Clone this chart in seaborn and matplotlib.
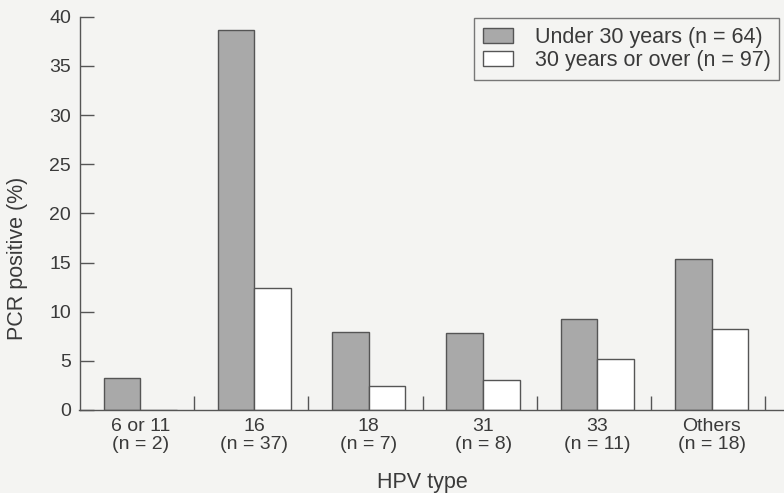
#Importing the libraries
import numpy as np
import pandas as pd
import matplotlib
matplotlib.use('Agg')
import matplotlib.pyplot as plt
import seaborn as sns

#Data
hpv_types = ['6 or 11', '16', '18', '31', '33', 'Others']
type_counts = [2, 37, 7, 8, 11, 18]
under_30 = [3.25, 38.6, 7.9, 7.8, 9.3, 15.35]
over_30 = [0.0, 12.4, 2.4, 3.1, 5.15, 8.2]
groups = ['Under 30 years (n = 64)', '30 years or over (n = 97)']

# Tick labels with the number of cases under each type
tick_labels = [f'{t}\n(n = {n})' for t, n in zip(hpv_types, type_counts)]

# Long format table for seaborn
df = pd.DataFrame({
    'type': tick_labels * 2,
    'pct': under_30 + over_30,
    'group': [groups[0]] * len(hpv_types) + [groups[1]] * len(hpv_types),
})

sns.set_style('ticks')
plt.rcParams['font.family'] = ['Liberation Sans', 'DejaVu Sans']
text_col = '#3a3a3a'
bg = '#f4f4f2'

fig = plt.figure(figsize=(7.84, 4.93), dpi=100, facecolor=bg)
ax = fig.add_axes([79.5 / 784, 83 / 493, 1 - 79.5 / 784, (410 - 16.7) / 493])
ax.set_facecolor(bg)

sns.barplot(data=df, x='type', y='pct', hue='group', order=tick_labels,
            hue_order=groups, palette=['#a9a9a9', '#ffffff'], width=0.64,
            edgecolor='#555555', linewidth=1.0, saturation=1, ax=ax)

ax.set_ylim(0, 40)
ax.set_xlim(-0.531, 5.633)
ax.set_yticks(np.arange(0, 41, 5))

# Spines
for s in ['top', 'right']:
    ax.spines[s].set_visible(False)
for s in ['left', 'bottom']:
    ax.spines[s].set_color('#555555')
    ax.spines[s].set_linewidth(1.0)

# Ticks pointing inwards, boundary ticks between the groups
ax.tick_params(axis='y', direction='in', length=10, width=1, color='#555555',
               labelsize=14, labelcolor=text_col, pad=6)
ax.tick_params(axis='x', which='major', length=0, labelsize=14,
               labelcolor=text_col, pad=6)
ax.set_xticks(np.arange(1, 7) - 0.529, minor=True)
ax.tick_params(axis='x', which='minor', direction='in', length=10, width=1,
               color='#555555')
for lab in ax.get_xticklabels():
    lab.set_linespacing(1.05)

ax.set_xlabel('HPV type', fontsize=15.5, color=text_col)
ax.xaxis.set_label_coords(0.486, -0.158)
ax.set_ylabel('PCR positive (%)', fontsize=15.5, color=text_col)
ax.yaxis.set_label_coords(-0.073, 0.385)

# Legend
handles, labels = ax.get_legend_handles_labels()
leg = ax.legend(handles, labels, loc='upper left',
                bbox_to_anchor=(474.3 / 784, 1 - 18.3 / 493),
                bbox_transform=fig.transFigure, fontsize=15.5, frameon=True,
                fancybox=False, edgecolor='#777777', framealpha=1,
                handlelength=1.4, handleheight=0.7, handletextpad=1.0,
                labelspacing=0.12, borderpad=0.4, borderaxespad=0)
leg.get_frame().set_linewidth(1.0)
leg.get_frame().set_facecolor(bg)
for t in leg.get_texts():
    t.set_color(text_col)

fig.savefig('out.png', dpi=100, facecolor=bg)
